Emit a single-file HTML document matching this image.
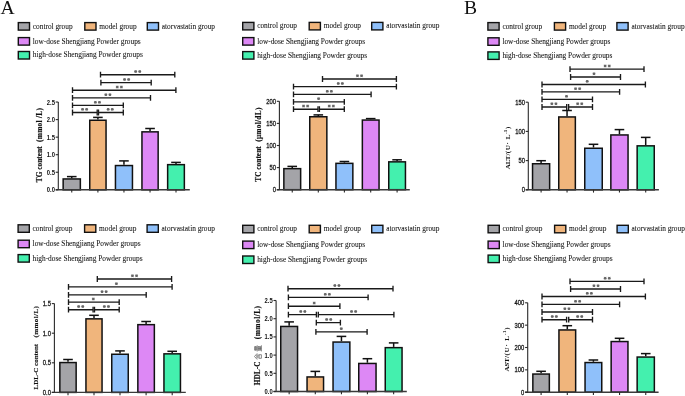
<!DOCTYPE html>
<html><head><meta charset="utf-8"><title>Figure</title><style>
html,body{margin:0;padding:0;background:#fff;}
body{width:685px;height:396px;overflow:hidden;}
svg{display:block;filter:blur(0.3px);}
.lg{font-family:"Liberation Serif", serif;font-size:7.35px;fill:#111;stroke:#111;stroke-width:0.06px;}
.tk{font-family:"Liberation Sans", sans-serif;font-size:6.8px;fill:#111;}
.tk.b{font-weight:bold;}
.tk:not(.b){stroke:#111;stroke-width:0.25px;}
.ax{stroke:#2a2a2a;stroke-width:1.1;fill:none;}
.xa{stroke:#3a3a3a;stroke-width:1.4;fill:none;}
.eb{stroke:#111;stroke-width:1.5;fill:none;}
.br{stroke:#1a1a1a;stroke-width:1.35;fill:none;}
.sd{fill:#666;}
.sp{stroke:#666;stroke-width:0.7;fill:none;}
.yl{font-family:"Liberation Serif", serif;font-size:7.4px;font-weight:bold;fill:#111;stroke:#111;stroke-width:0.15px;}
.yl2{font-family:"Liberation Serif", serif;font-size:7.2px;font-weight:bold;fill:#111;stroke:#111;stroke-width:0.05px;}
.pl{font-family:"Liberation Serif", serif;font-size:19.6px;fill:#111;}
</style></head>
<body><svg width="685" height="396" viewBox="0 0 685 396">
<text x="0.5" y="13.6" class="pl">A</text>
<text x="463.9" y="13.6" class="pl">B</text>
<rect x="18.30" y="22.60" width="11.20" height="7.50" fill="#a4a4a8" stroke="#111" stroke-width="1.4"/>
<text x="32.80" y="28.50" class="lg">control group</text>
<rect x="84.80" y="22.60" width="11.20" height="7.50" fill="#f0b57c" stroke="#111" stroke-width="1.4"/>
<text x="99.30" y="28.50" class="lg">model group</text>
<rect x="147.30" y="22.60" width="11.20" height="7.50" fill="#8fc0fa" stroke="#111" stroke-width="1.4"/>
<text x="161.80" y="28.50" class="lg">atorvastatin group</text>
<rect x="18.30" y="37.60" width="11.20" height="7.50" fill="#dd88f5" stroke="#111" stroke-width="1.4"/>
<text x="32.80" y="43.50" class="lg">low-dose Shengjiang Powder groups</text>
<rect x="18.30" y="51.50" width="11.20" height="7.50" fill="#44f0ae" stroke="#111" stroke-width="1.4"/>
<text x="32.80" y="57.40" class="lg">high-dose Shengjiang Powder groups</text>
<line x1="71.75" y1="176.60" x2="71.75" y2="178.20" class="eb"/>
<line x1="66.95" y1="176.60" x2="76.55" y2="176.60" class="eb"/>
<rect x="63.15" y="178.95" width="17.20" height="10.85" fill="#a4a4a8" stroke="#111" stroke-width="1.5"/>
<line x1="97.90" y1="117.40" x2="97.90" y2="119.50" class="eb"/>
<line x1="93.10" y1="117.40" x2="102.70" y2="117.40" class="eb"/>
<rect x="89.75" y="120.25" width="16.30" height="69.55" fill="#f0b57c" stroke="#111" stroke-width="1.5"/>
<line x1="123.95" y1="160.90" x2="123.95" y2="164.80" class="eb"/>
<line x1="119.15" y1="160.90" x2="128.75" y2="160.90" class="eb"/>
<rect x="115.45" y="165.55" width="17.00" height="24.25" fill="#8fc0fa" stroke="#111" stroke-width="1.5"/>
<line x1="150.05" y1="128.50" x2="150.05" y2="131.10" class="eb"/>
<line x1="145.25" y1="128.50" x2="154.85" y2="128.50" class="eb"/>
<rect x="141.95" y="131.85" width="16.20" height="57.95" fill="#dd88f5" stroke="#111" stroke-width="1.5"/>
<line x1="176.00" y1="162.40" x2="176.00" y2="163.90" class="eb"/>
<line x1="171.20" y1="162.40" x2="180.80" y2="162.40" class="eb"/>
<rect x="167.65" y="164.65" width="16.70" height="25.15" fill="#44f0ae" stroke="#111" stroke-width="1.5"/>
<line x1="58.30" y1="102.05" x2="58.30" y2="189.80" class="ax"/>
<line x1="55.70" y1="189.80" x2="189.80" y2="189.80" class="xa"/>
<line x1="55.70" y1="189.80" x2="58.30" y2="189.80" class="ax"/>
<text transform="translate(54.90,192.25) scale(0.86,1)" class="tk b" text-anchor="end">0.0</text>
<line x1="55.70" y1="172.25" x2="58.30" y2="172.25" class="ax"/>
<text transform="translate(54.90,174.70) scale(0.86,1)" class="tk b" text-anchor="end">0.5</text>
<line x1="55.70" y1="154.70" x2="58.30" y2="154.70" class="ax"/>
<text transform="translate(54.90,157.15) scale(0.86,1)" class="tk b" text-anchor="end">1.0</text>
<line x1="55.70" y1="137.15" x2="58.30" y2="137.15" class="ax"/>
<text transform="translate(54.90,139.60) scale(0.86,1)" class="tk b" text-anchor="end">1.5</text>
<line x1="55.70" y1="119.60" x2="58.30" y2="119.60" class="ax"/>
<text transform="translate(54.90,122.05) scale(0.86,1)" class="tk b" text-anchor="end">2.0</text>
<line x1="55.70" y1="102.05" x2="58.30" y2="102.05" class="ax"/>
<text transform="translate(54.90,104.50) scale(0.86,1)" class="tk b" text-anchor="end">2.5</text>
<line x1="71.75" y1="189.80" x2="71.75" y2="192.60" class="ax"/>
<line x1="97.90" y1="189.80" x2="97.90" y2="192.60" class="ax"/>
<line x1="123.95" y1="189.80" x2="123.95" y2="192.60" class="ax"/>
<line x1="150.05" y1="189.80" x2="150.05" y2="192.60" class="ax"/>
<line x1="176.00" y1="189.80" x2="176.00" y2="192.60" class="ax"/>
<path d="M100.50 71.80V77.60M100.50 74.70H174.80M174.80 71.80V77.60" class="br"/>
<circle cx="135.65" cy="71.55" r="1.25" class="sd"/><path d="M134.15 71.55H137.15M134.85 70.25L136.45 72.85M136.45 70.25L134.85 72.85" class="sp"/>
<circle cx="139.75" cy="71.55" r="1.25" class="sd"/><path d="M138.25 71.55H141.25M138.95 70.25L140.55 72.85M140.55 70.25L138.95 72.85" class="sp"/>
<path d="M100.90 79.70V85.50M100.90 82.60H151.20M151.20 79.70V85.50" class="br"/>
<circle cx="124.55" cy="79.45" r="1.25" class="sd"/><path d="M123.05 79.45H126.05M123.75 78.15L125.35 80.75M125.35 78.15L123.75 80.75" class="sp"/>
<circle cx="128.65" cy="79.45" r="1.25" class="sd"/><path d="M127.15 79.45H130.15M127.85 78.15L129.45 80.75M129.45 78.15L127.85 80.75" class="sp"/>
<path d="M72.50 87.30V93.10M72.50 90.20H175.90M175.90 87.30V93.10" class="br"/>
<circle cx="117.25" cy="87.05" r="1.25" class="sd"/><path d="M115.75 87.05H118.75M116.45 85.75L118.05 88.35M118.05 85.75L116.45 88.35" class="sp"/>
<circle cx="121.35" cy="87.05" r="1.25" class="sd"/><path d="M119.85 87.05H122.85M120.55 85.75L122.15 88.35M122.15 85.75L120.55 88.35" class="sp"/>
<path d="M72.50 95.00V100.80M72.50 97.90H150.50M150.50 95.00V100.80" class="br"/>
<circle cx="105.85" cy="94.75" r="1.25" class="sd"/><path d="M104.35 94.75H107.35M105.05 93.45L106.65 96.05M106.65 93.45L105.05 96.05" class="sp"/>
<circle cx="109.95" cy="94.75" r="1.25" class="sd"/><path d="M108.45 94.75H111.45M109.15 93.45L110.75 96.05M110.75 93.45L109.15 96.05" class="sp"/>
<path d="M72.50 102.50V108.30M72.50 105.40H123.30M123.30 102.50V108.30" class="br"/>
<circle cx="95.35" cy="102.25" r="1.25" class="sd"/><path d="M93.85 102.25H96.85M94.55 100.95L96.15 103.55M96.15 100.95L94.55 103.55" class="sp"/>
<circle cx="99.45" cy="102.25" r="1.25" class="sd"/><path d="M97.95 102.25H100.95M98.65 100.95L100.25 103.55M100.25 100.95L98.65 103.55" class="sp"/>
<path d="M72.50 109.60V115.40M72.50 112.50H97.20M97.20 109.60V115.40" class="br"/>
<circle cx="82.55" cy="109.35" r="1.25" class="sd"/><path d="M81.05 109.35H84.05M81.75 108.05L83.35 110.65M83.35 108.05L81.75 110.65" class="sp"/>
<circle cx="86.65" cy="109.35" r="1.25" class="sd"/><path d="M85.15 109.35H88.15M85.85 108.05L87.45 110.65M87.45 108.05L85.85 110.65" class="sp"/>
<path d="M98.50 109.60V115.40M98.50 112.50H123.30M123.30 109.60V115.40" class="br"/>
<circle cx="108.15" cy="109.35" r="1.25" class="sd"/><path d="M106.65 109.35H109.65M107.35 108.05L108.95 110.65M108.95 108.05L107.35 110.65" class="sp"/>
<circle cx="112.25" cy="109.35" r="1.25" class="sd"/><path d="M110.75 109.35H113.75M111.45 108.05L113.05 110.65M113.05 108.05L111.45 110.65" class="sp"/>
<text transform="translate(42.10,182.30) rotate(-90)" class="yl" style="">TG content</text>
<text transform="translate(42.10,142.00) rotate(-90)" class="yl" style="letter-spacing:0.26px;">(mmol /L)</text>
<rect x="242.70" y="22.40" width="11.20" height="7.50" fill="#a4a4a8" stroke="#111" stroke-width="1.4"/>
<text x="257.20" y="28.30" class="lg">control group</text>
<rect x="309.20" y="22.40" width="11.20" height="7.50" fill="#f0b57c" stroke="#111" stroke-width="1.4"/>
<text x="323.70" y="28.30" class="lg">model group</text>
<rect x="371.70" y="22.40" width="11.20" height="7.50" fill="#8fc0fa" stroke="#111" stroke-width="1.4"/>
<text x="386.20" y="28.30" class="lg">atorvastatin group</text>
<rect x="242.70" y="37.60" width="11.20" height="7.50" fill="#dd88f5" stroke="#111" stroke-width="1.4"/>
<text x="257.20" y="43.50" class="lg">low-dose Shengjiang Powder groups</text>
<rect x="242.70" y="51.60" width="11.20" height="7.50" fill="#44f0ae" stroke="#111" stroke-width="1.4"/>
<text x="257.20" y="57.50" class="lg">high-dose Shengjiang Powder groups</text>
<line x1="292.25" y1="166.40" x2="292.25" y2="167.90" class="eb"/>
<line x1="287.45" y1="166.40" x2="297.05" y2="166.40" class="eb"/>
<rect x="283.85" y="168.65" width="16.80" height="21.05" fill="#a4a4a8" stroke="#111" stroke-width="1.5"/>
<line x1="318.30" y1="114.90" x2="318.30" y2="116.00" class="eb"/>
<line x1="313.50" y1="114.90" x2="323.10" y2="114.90" class="eb"/>
<rect x="309.75" y="116.75" width="17.10" height="72.95" fill="#f0b57c" stroke="#111" stroke-width="1.5"/>
<line x1="344.40" y1="161.50" x2="344.40" y2="162.60" class="eb"/>
<line x1="339.60" y1="161.50" x2="349.20" y2="161.50" class="eb"/>
<rect x="335.95" y="163.35" width="16.90" height="26.35" fill="#8fc0fa" stroke="#111" stroke-width="1.5"/>
<line x1="370.70" y1="118.60" x2="370.70" y2="119.30" class="eb"/>
<line x1="365.90" y1="118.60" x2="375.50" y2="118.60" class="eb"/>
<rect x="362.35" y="120.05" width="16.70" height="69.65" fill="#dd88f5" stroke="#111" stroke-width="1.5"/>
<line x1="397.10" y1="159.80" x2="397.10" y2="161.10" class="eb"/>
<line x1="392.30" y1="159.80" x2="401.90" y2="159.80" class="eb"/>
<rect x="388.75" y="161.85" width="16.70" height="27.85" fill="#44f0ae" stroke="#111" stroke-width="1.5"/>
<line x1="279.40" y1="101.30" x2="279.40" y2="189.70" class="ax"/>
<line x1="276.80" y1="189.70" x2="409.80" y2="189.70" class="xa"/>
<line x1="276.80" y1="189.70" x2="279.40" y2="189.70" class="ax"/>
<text transform="translate(276.00,192.15) scale(0.86,1)" class="tk" text-anchor="end">0</text>
<line x1="276.80" y1="167.60" x2="279.40" y2="167.60" class="ax"/>
<text transform="translate(276.00,170.05) scale(0.86,1)" class="tk" text-anchor="end">50</text>
<line x1="276.80" y1="145.50" x2="279.40" y2="145.50" class="ax"/>
<text transform="translate(276.00,147.95) scale(0.86,1)" class="tk" text-anchor="end">100</text>
<line x1="276.80" y1="123.40" x2="279.40" y2="123.40" class="ax"/>
<text transform="translate(276.00,125.85) scale(0.86,1)" class="tk" text-anchor="end">150</text>
<line x1="276.80" y1="101.30" x2="279.40" y2="101.30" class="ax"/>
<text transform="translate(276.00,103.75) scale(0.86,1)" class="tk" text-anchor="end">200</text>
<line x1="292.25" y1="189.70" x2="292.25" y2="192.50" class="ax"/>
<line x1="318.30" y1="189.70" x2="318.30" y2="192.50" class="ax"/>
<line x1="344.40" y1="189.70" x2="344.40" y2="192.50" class="ax"/>
<line x1="370.70" y1="189.70" x2="370.70" y2="192.50" class="ax"/>
<line x1="397.10" y1="189.70" x2="397.10" y2="192.50" class="ax"/>
<path d="M322.50 76.10V81.90M322.50 79.00H396.40M396.40 76.10V81.90" class="br"/>
<circle cx="357.45" cy="75.85" r="1.25" class="sd"/><path d="M355.95 75.85H358.95M356.65 74.55L358.25 77.15M358.25 74.55L356.65 77.15" class="sp"/>
<circle cx="361.55" cy="75.85" r="1.25" class="sd"/><path d="M360.05 75.85H363.05M360.75 74.55L362.35 77.15M362.35 74.55L360.75 77.15" class="sp"/>
<path d="M293.50 83.70V89.50M293.50 86.60H396.40M396.40 83.70V89.50" class="br"/>
<circle cx="338.25" cy="83.45" r="1.25" class="sd"/><path d="M336.75 83.45H339.75M337.45 82.15L339.05 84.75M339.05 82.15L337.45 84.75" class="sp"/>
<circle cx="342.35" cy="83.45" r="1.25" class="sd"/><path d="M340.85 83.45H343.85M341.55 82.15L343.15 84.75M343.15 82.15L341.55 84.75" class="sp"/>
<path d="M293.50 91.50V97.30M293.50 94.40H371.10M371.10 91.50V97.30" class="br"/>
<circle cx="327.25" cy="91.25" r="1.25" class="sd"/><path d="M325.75 91.25H328.75M326.45 89.95L328.05 92.55M328.05 89.95L326.45 92.55" class="sp"/>
<circle cx="331.35" cy="91.25" r="1.25" class="sd"/><path d="M329.85 91.25H332.85M330.55 89.95L332.15 92.55M332.15 89.95L330.55 92.55" class="sp"/>
<path d="M293.50 98.90V104.70M293.50 101.80H344.30M344.30 98.90V104.70" class="br"/>
<circle cx="318.60" cy="98.65" r="1.25" class="sd"/><path d="M317.10 98.65H320.10M317.80 97.35L319.40 99.95M319.40 97.35L317.80 99.95" class="sp"/>
<path d="M293.50 106.30V112.10M293.50 109.20H318.00M318.00 106.30V112.10" class="br"/>
<circle cx="303.55" cy="106.05" r="1.25" class="sd"/><path d="M302.05 106.05H305.05M302.75 104.75L304.35 107.35M304.35 104.75L302.75 107.35" class="sp"/>
<circle cx="307.65" cy="106.05" r="1.25" class="sd"/><path d="M306.15 106.05H309.15M306.85 104.75L308.45 107.35M308.45 104.75L306.85 107.35" class="sp"/>
<path d="M319.40 106.30V112.10M319.40 109.20H344.30M344.30 106.30V112.10" class="br"/>
<circle cx="329.25" cy="106.05" r="1.25" class="sd"/><path d="M327.75 106.05H330.75M328.45 104.75L330.05 107.35M330.05 104.75L328.45 107.35" class="sp"/>
<circle cx="333.35" cy="106.05" r="1.25" class="sd"/><path d="M331.85 106.05H334.85M332.55 104.75L334.15 107.35M334.15 104.75L332.55 107.35" class="sp"/>
<text transform="translate(260.60,181.80) rotate(-90)" class="yl" style="">TC content</text>
<text transform="translate(260.60,141.80) rotate(-90)" class="yl" style="letter-spacing:0.26px;">(μmol/dL)</text>
<rect x="487.90" y="22.60" width="11.20" height="7.50" fill="#a4a4a8" stroke="#111" stroke-width="1.4"/>
<text x="502.40" y="28.50" class="lg">control group</text>
<rect x="554.40" y="22.60" width="11.20" height="7.50" fill="#f0b57c" stroke="#111" stroke-width="1.4"/>
<text x="568.90" y="28.50" class="lg">model group</text>
<rect x="616.90" y="22.60" width="11.20" height="7.50" fill="#8fc0fa" stroke="#111" stroke-width="1.4"/>
<text x="631.40" y="28.50" class="lg">atorvastatin group</text>
<rect x="487.90" y="37.80" width="11.20" height="7.50" fill="#dd88f5" stroke="#111" stroke-width="1.4"/>
<text x="502.40" y="43.70" class="lg">low-dose Shengjiang Powder groups</text>
<rect x="487.90" y="51.90" width="11.20" height="7.50" fill="#44f0ae" stroke="#111" stroke-width="1.4"/>
<text x="502.40" y="57.80" class="lg">high-dose Shengjiang Powder groups</text>
<line x1="541.10" y1="160.70" x2="541.10" y2="163.00" class="eb"/>
<line x1="536.30" y1="160.70" x2="545.90" y2="160.70" class="eb"/>
<rect x="532.55" y="163.75" width="17.10" height="26.05" fill="#a4a4a8" stroke="#111" stroke-width="1.5"/>
<line x1="567.05" y1="110.50" x2="567.05" y2="116.20" class="eb"/>
<line x1="562.25" y1="110.50" x2="571.85" y2="110.50" class="eb"/>
<rect x="558.75" y="116.95" width="16.60" height="72.85" fill="#f0b57c" stroke="#111" stroke-width="1.5"/>
<line x1="593.50" y1="144.30" x2="593.50" y2="147.50" class="eb"/>
<line x1="588.70" y1="144.30" x2="598.30" y2="144.30" class="eb"/>
<rect x="584.75" y="148.25" width="17.50" height="41.55" fill="#8fc0fa" stroke="#111" stroke-width="1.5"/>
<line x1="619.45" y1="129.60" x2="619.45" y2="134.20" class="eb"/>
<line x1="614.65" y1="129.60" x2="624.25" y2="129.60" class="eb"/>
<rect x="610.85" y="134.95" width="17.20" height="54.85" fill="#dd88f5" stroke="#111" stroke-width="1.5"/>
<line x1="645.70" y1="137.40" x2="645.70" y2="145.10" class="eb"/>
<line x1="640.90" y1="137.40" x2="650.50" y2="137.40" class="eb"/>
<rect x="637.15" y="145.85" width="17.10" height="43.95" fill="#44f0ae" stroke="#111" stroke-width="1.5"/>
<line x1="528.30" y1="102.20" x2="528.30" y2="189.80" class="ax"/>
<line x1="525.70" y1="189.80" x2="658.90" y2="189.80" class="xa"/>
<line x1="525.70" y1="189.80" x2="528.30" y2="189.80" class="ax"/>
<text transform="translate(524.90,192.25) scale(0.86,1)" class="tk" text-anchor="end">0</text>
<line x1="525.70" y1="160.60" x2="528.30" y2="160.60" class="ax"/>
<text transform="translate(524.90,163.05) scale(0.86,1)" class="tk" text-anchor="end">50</text>
<line x1="525.70" y1="131.40" x2="528.30" y2="131.40" class="ax"/>
<text transform="translate(524.90,133.85) scale(0.86,1)" class="tk" text-anchor="end">100</text>
<line x1="525.70" y1="102.20" x2="528.30" y2="102.20" class="ax"/>
<text transform="translate(524.90,104.65) scale(0.86,1)" class="tk" text-anchor="end">150</text>
<line x1="541.10" y1="189.80" x2="541.10" y2="192.60" class="ax"/>
<line x1="567.05" y1="189.80" x2="567.05" y2="192.60" class="ax"/>
<line x1="593.50" y1="189.80" x2="593.50" y2="192.60" class="ax"/>
<line x1="619.45" y1="189.80" x2="619.45" y2="192.60" class="ax"/>
<line x1="645.70" y1="189.80" x2="645.70" y2="192.60" class="ax"/>
<path d="M570.00 66.20V72.00M570.00 69.10H644.00M644.00 66.20V72.00" class="br"/>
<circle cx="605.15" cy="65.95" r="1.25" class="sd"/><path d="M603.65 65.95H606.65M604.35 64.65L605.95 67.25M605.95 64.65L604.35 67.25" class="sp"/>
<circle cx="609.25" cy="65.95" r="1.25" class="sd"/><path d="M607.75 65.95H610.75M608.45 64.65L610.05 67.25M610.05 64.65L608.45 67.25" class="sp"/>
<path d="M570.60 74.10V79.90M570.60 77.00H620.50M620.50 74.10V79.90" class="br"/>
<circle cx="594.00" cy="73.85" r="1.25" class="sd"/><path d="M592.50 73.85H595.50M593.20 72.55L594.80 75.15M594.80 72.55L593.20 75.15" class="sp"/>
<path d="M542.00 81.60V87.40M542.00 84.50H645.40M645.40 81.60V87.40" class="br"/>
<circle cx="587.20" cy="81.35" r="1.25" class="sd"/><path d="M585.70 81.35H588.70M586.40 80.05L588.00 82.65M588.00 80.05L586.40 82.65" class="sp"/>
<path d="M542.00 89.00V94.80M542.00 91.90H619.60M619.60 89.00V94.80" class="br"/>
<circle cx="575.55" cy="88.75" r="1.25" class="sd"/><path d="M574.05 88.75H577.05M574.75 87.45L576.35 90.05M576.35 87.45L574.75 90.05" class="sp"/>
<circle cx="579.65" cy="88.75" r="1.25" class="sd"/><path d="M578.15 88.75H581.15M578.85 87.45L580.45 90.05M580.45 87.45L578.85 90.05" class="sp"/>
<path d="M542.00 96.50V102.30M542.00 99.40H592.50M592.50 96.50V102.30" class="br"/>
<circle cx="566.50" cy="96.25" r="1.25" class="sd"/><path d="M565.00 96.25H568.00M565.70 94.95L567.30 97.55M567.30 94.95L565.70 97.55" class="sp"/>
<path d="M542.00 104.10V109.90M542.00 107.00H566.70M566.70 104.10V109.90" class="br"/>
<circle cx="551.85" cy="103.85" r="1.25" class="sd"/><path d="M550.35 103.85H553.35M551.05 102.55L552.65 105.15M552.65 102.55L551.05 105.15" class="sp"/>
<circle cx="555.95" cy="103.85" r="1.25" class="sd"/><path d="M554.45 103.85H557.45M555.15 102.55L556.75 105.15M556.75 102.55L555.15 105.15" class="sp"/>
<path d="M568.60 104.10V109.90M568.60 107.00H592.50M592.50 104.10V109.90" class="br"/>
<circle cx="577.65" cy="103.85" r="1.25" class="sd"/><path d="M576.15 103.85H579.15M576.85 102.55L578.45 105.15M578.45 102.55L576.85 105.15" class="sp"/>
<circle cx="581.75" cy="103.85" r="1.25" class="sd"/><path d="M580.25 103.85H583.25M580.95 102.55L582.55 105.15M582.55 102.55L580.95 105.15" class="sp"/>
<text transform="translate(510.10,169.30) rotate(-90)" class="yl2" style="font-size:7.0px;">ALT/</text>
<text transform="translate(510.10,153.20) rotate(-90)" class="yl2" style="font-size:7.0px;letter-spacing:0.6px;">(U· L<tspan dy="-2.9" font-size="4.6">-1</tspan><tspan dy="2.9">)</tspan></text>
<rect x="18.10" y="224.80" width="11.20" height="7.50" fill="#a4a4a8" stroke="#111" stroke-width="1.4"/>
<text x="32.60" y="230.70" class="lg">control group</text>
<rect x="84.60" y="224.80" width="11.20" height="7.50" fill="#f0b57c" stroke="#111" stroke-width="1.4"/>
<text x="99.10" y="230.70" class="lg">model group</text>
<rect x="147.10" y="224.80" width="11.20" height="7.50" fill="#8fc0fa" stroke="#111" stroke-width="1.4"/>
<text x="161.60" y="230.70" class="lg">atorvastatin group</text>
<rect x="18.10" y="240.20" width="11.20" height="7.50" fill="#dd88f5" stroke="#111" stroke-width="1.4"/>
<text x="32.60" y="246.10" class="lg">low-dose Shengjiang Powder groups</text>
<rect x="18.10" y="254.60" width="11.20" height="7.50" fill="#44f0ae" stroke="#111" stroke-width="1.4"/>
<text x="32.60" y="260.50" class="lg">high-dose Shengjiang Powder groups</text>
<line x1="68.00" y1="359.50" x2="68.00" y2="361.80" class="eb"/>
<line x1="63.20" y1="359.50" x2="72.80" y2="359.50" class="eb"/>
<rect x="59.85" y="362.55" width="16.30" height="29.85" fill="#a4a4a8" stroke="#111" stroke-width="1.5"/>
<line x1="94.00" y1="315.30" x2="94.00" y2="318.10" class="eb"/>
<line x1="89.20" y1="315.30" x2="98.80" y2="315.30" class="eb"/>
<rect x="85.95" y="318.85" width="16.10" height="73.55" fill="#f0b57c" stroke="#111" stroke-width="1.5"/>
<line x1="120.00" y1="350.90" x2="120.00" y2="353.50" class="eb"/>
<line x1="115.20" y1="350.90" x2="124.80" y2="350.90" class="eb"/>
<rect x="111.75" y="354.25" width="16.50" height="38.15" fill="#8fc0fa" stroke="#111" stroke-width="1.5"/>
<line x1="146.10" y1="321.50" x2="146.10" y2="323.90" class="eb"/>
<line x1="141.30" y1="321.50" x2="150.90" y2="321.50" class="eb"/>
<rect x="137.85" y="324.65" width="16.50" height="67.75" fill="#dd88f5" stroke="#111" stroke-width="1.5"/>
<line x1="172.20" y1="351.30" x2="172.20" y2="353.10" class="eb"/>
<line x1="167.40" y1="351.30" x2="177.00" y2="351.30" class="eb"/>
<rect x="163.95" y="353.85" width="16.50" height="38.55" fill="#44f0ae" stroke="#111" stroke-width="1.5"/>
<line x1="54.40" y1="303.60" x2="54.40" y2="392.40" class="ax"/>
<line x1="51.80" y1="392.40" x2="185.80" y2="392.40" class="xa"/>
<line x1="51.80" y1="392.40" x2="54.40" y2="392.40" class="ax"/>
<text transform="translate(51.00,394.85) scale(0.86,1)" class="tk" text-anchor="end">0.0</text>
<line x1="51.80" y1="362.80" x2="54.40" y2="362.80" class="ax"/>
<text transform="translate(51.00,365.25) scale(0.86,1)" class="tk" text-anchor="end">0.5</text>
<line x1="51.80" y1="333.20" x2="54.40" y2="333.20" class="ax"/>
<text transform="translate(51.00,335.65) scale(0.86,1)" class="tk" text-anchor="end">1.0</text>
<line x1="51.80" y1="303.60" x2="54.40" y2="303.60" class="ax"/>
<text transform="translate(51.00,306.05) scale(0.86,1)" class="tk" text-anchor="end">1.5</text>
<line x1="68.00" y1="392.40" x2="68.00" y2="395.20" class="ax"/>
<line x1="94.00" y1="392.40" x2="94.00" y2="395.20" class="ax"/>
<line x1="120.00" y1="392.40" x2="120.00" y2="395.20" class="ax"/>
<line x1="146.10" y1="392.40" x2="146.10" y2="395.20" class="ax"/>
<line x1="172.20" y1="392.40" x2="172.20" y2="395.20" class="ax"/>
<path d="M97.30 276.10V281.90M97.30 279.00H171.60M171.60 276.10V281.90" class="br"/>
<circle cx="132.45" cy="275.85" r="1.25" class="sd"/><path d="M130.95 275.85H133.95M131.65 274.55L133.25 277.15M133.25 274.55L131.65 277.15" class="sp"/>
<circle cx="136.55" cy="275.85" r="1.25" class="sd"/><path d="M135.05 275.85H138.05M135.75 274.55L137.35 277.15M137.35 274.55L135.75 277.15" class="sp"/>
<path d="M68.50 284.00V289.80M68.50 286.90H172.10M172.10 284.00V289.80" class="br"/>
<circle cx="116.40" cy="283.75" r="1.25" class="sd"/><path d="M114.90 283.75H117.90M115.60 282.45L117.20 285.05M117.20 282.45L115.60 285.05" class="sp"/>
<path d="M68.50 291.90V297.70M68.50 294.80H146.20M146.20 291.90V297.70" class="br"/>
<circle cx="102.05" cy="291.65" r="1.25" class="sd"/><path d="M100.55 291.65H103.55M101.25 290.35L102.85 292.95M102.85 290.35L101.25 292.95" class="sp"/>
<circle cx="106.15" cy="291.65" r="1.25" class="sd"/><path d="M104.65 291.65H107.65M105.35 290.35L106.95 292.95M106.95 290.35L105.35 292.95" class="sp"/>
<path d="M68.50 299.20V305.00M68.50 302.10H119.20M119.20 299.20V305.00" class="br"/>
<circle cx="93.30" cy="298.95" r="1.25" class="sd"/><path d="M91.80 298.95H94.80M92.50 297.65L94.10 300.25M94.10 297.65L92.50 300.25" class="sp"/>
<path d="M68.50 306.80V312.60M68.50 309.70H93.10M93.10 306.80V312.60" class="br"/>
<circle cx="78.65" cy="306.55" r="1.25" class="sd"/><path d="M77.15 306.55H80.15M77.85 305.25L79.45 307.85M79.45 305.25L77.85 307.85" class="sp"/>
<circle cx="82.75" cy="306.55" r="1.25" class="sd"/><path d="M81.25 306.55H84.25M81.95 305.25L83.55 307.85M83.55 305.25L81.95 307.85" class="sp"/>
<path d="M94.50 306.80V312.60M94.50 309.70H119.20M119.20 306.80V312.60" class="br"/>
<circle cx="104.35" cy="306.55" r="1.25" class="sd"/><path d="M102.85 306.55H105.85M103.55 305.25L105.15 307.85M105.15 305.25L103.55 307.85" class="sp"/>
<circle cx="108.45" cy="306.55" r="1.25" class="sd"/><path d="M106.95 306.55H109.95M107.65 305.25L109.25 307.85M109.25 305.25L107.65 307.85" class="sp"/>
<text transform="translate(38.30,389.50) rotate(-90)" class="yl" style="font-size:7.0px;">LDL-C content</text>
<text transform="translate(38.30,337.60) rotate(-90)" class="yl" style="font-size:7.0px;letter-spacing:0.45px;">(mmol/L)</text>
<rect x="242.70" y="225.30" width="11.20" height="7.50" fill="#a4a4a8" stroke="#111" stroke-width="1.4"/>
<text x="257.20" y="231.20" class="lg">control group</text>
<rect x="309.20" y="225.30" width="11.20" height="7.50" fill="#f0b57c" stroke="#111" stroke-width="1.4"/>
<text x="323.70" y="231.20" class="lg">model group</text>
<rect x="371.70" y="225.30" width="11.20" height="7.50" fill="#8fc0fa" stroke="#111" stroke-width="1.4"/>
<text x="386.20" y="231.20" class="lg">atorvastatin group</text>
<rect x="242.70" y="241.10" width="11.20" height="7.50" fill="#dd88f5" stroke="#111" stroke-width="1.4"/>
<text x="257.20" y="247.00" class="lg">low-dose Shengjiang Powder groups</text>
<rect x="242.70" y="256.00" width="11.20" height="7.50" fill="#44f0ae" stroke="#111" stroke-width="1.4"/>
<text x="257.20" y="261.90" class="lg">high-dose Shengjiang Powder groups</text>
<line x1="289.15" y1="321.90" x2="289.15" y2="325.70" class="eb"/>
<line x1="284.35" y1="321.90" x2="293.95" y2="321.90" class="eb"/>
<rect x="280.75" y="326.45" width="16.80" height="65.05" fill="#a4a4a8" stroke="#111" stroke-width="1.5"/>
<line x1="315.30" y1="371.40" x2="315.30" y2="376.20" class="eb"/>
<line x1="310.50" y1="371.40" x2="320.10" y2="371.40" class="eb"/>
<rect x="307.05" y="376.95" width="16.50" height="14.55" fill="#f0b57c" stroke="#111" stroke-width="1.5"/>
<line x1="341.45" y1="336.40" x2="341.45" y2="341.30" class="eb"/>
<line x1="336.65" y1="336.40" x2="346.25" y2="336.40" class="eb"/>
<rect x="333.05" y="342.05" width="16.80" height="49.45" fill="#8fc0fa" stroke="#111" stroke-width="1.5"/>
<line x1="367.40" y1="358.70" x2="367.40" y2="362.70" class="eb"/>
<line x1="362.60" y1="358.70" x2="372.20" y2="358.70" class="eb"/>
<rect x="358.75" y="363.45" width="17.30" height="28.05" fill="#dd88f5" stroke="#111" stroke-width="1.5"/>
<line x1="393.65" y1="342.90" x2="393.65" y2="346.90" class="eb"/>
<line x1="388.85" y1="342.90" x2="398.45" y2="342.90" class="eb"/>
<rect x="385.25" y="347.65" width="16.80" height="43.85" fill="#44f0ae" stroke="#111" stroke-width="1.5"/>
<line x1="276.10" y1="300.50" x2="276.10" y2="391.50" class="ax"/>
<line x1="273.50" y1="391.50" x2="406.80" y2="391.50" class="xa"/>
<line x1="273.50" y1="391.50" x2="276.10" y2="391.50" class="ax"/>
<text transform="translate(272.70,393.95) scale(0.86,1)" class="tk b" text-anchor="end">0.0</text>
<line x1="273.50" y1="373.30" x2="276.10" y2="373.30" class="ax"/>
<text transform="translate(272.70,375.75) scale(0.86,1)" class="tk b" text-anchor="end">0.5</text>
<line x1="273.50" y1="355.10" x2="276.10" y2="355.10" class="ax"/>
<text transform="translate(272.70,357.55) scale(0.86,1)" class="tk b" text-anchor="end">1.0</text>
<line x1="273.50" y1="336.90" x2="276.10" y2="336.90" class="ax"/>
<text transform="translate(272.70,339.35) scale(0.86,1)" class="tk b" text-anchor="end">1.5</text>
<line x1="273.50" y1="318.70" x2="276.10" y2="318.70" class="ax"/>
<text transform="translate(272.70,321.15) scale(0.86,1)" class="tk b" text-anchor="end">2.0</text>
<line x1="273.50" y1="300.50" x2="276.10" y2="300.50" class="ax"/>
<text transform="translate(272.70,302.95) scale(0.86,1)" class="tk b" text-anchor="end">2.5</text>
<line x1="289.15" y1="391.50" x2="289.15" y2="394.30" class="ax"/>
<line x1="315.30" y1="391.50" x2="315.30" y2="394.30" class="ax"/>
<line x1="341.45" y1="391.50" x2="341.45" y2="394.30" class="ax"/>
<line x1="367.40" y1="391.50" x2="367.40" y2="394.30" class="ax"/>
<line x1="393.65" y1="391.50" x2="393.65" y2="394.30" class="ax"/>
<path d="M288.00 285.80V291.60M288.00 288.70H393.00M393.00 285.80V291.60" class="br"/>
<circle cx="334.85" cy="285.55" r="1.25" class="sd"/><path d="M333.35 285.55H336.35M334.05 284.25L335.65 286.85M335.65 284.25L334.05 286.85" class="sp"/>
<circle cx="338.95" cy="285.55" r="1.25" class="sd"/><path d="M337.45 285.55H340.45M338.15 284.25L339.75 286.85M339.75 284.25L338.15 286.85" class="sp"/>
<path d="M288.40 294.50V300.30M288.40 297.40H368.10M368.10 294.50V300.30" class="br"/>
<circle cx="325.25" cy="294.25" r="1.25" class="sd"/><path d="M323.75 294.25H326.75M324.45 292.95L326.05 295.55M326.05 292.95L324.45 295.55" class="sp"/>
<circle cx="329.35" cy="294.25" r="1.25" class="sd"/><path d="M327.85 294.25H330.85M328.55 292.95L330.15 295.55M330.15 292.95L328.55 295.55" class="sp"/>
<path d="M288.40 303.30V309.10M288.40 306.20H339.90M339.90 303.30V309.10" class="br"/>
<circle cx="314.20" cy="303.05" r="1.25" class="sd"/><path d="M312.70 303.05H315.70M313.40 301.75L315.00 304.35M315.00 301.75L313.40 304.35" class="sp"/>
<path d="M288.40 311.70V317.50M288.40 314.60H316.40M316.40 311.70V317.50" class="br"/>
<circle cx="300.75" cy="311.45" r="1.25" class="sd"/><path d="M299.25 311.45H302.25M299.95 310.15L301.55 312.75M301.55 310.15L299.95 312.75" class="sp"/>
<circle cx="304.85" cy="311.45" r="1.25" class="sd"/><path d="M303.35 311.45H306.35M304.05 310.15L305.65 312.75M305.65 310.15L304.05 312.75" class="sp"/>
<path d="M318.30 311.70V317.50M318.30 314.60H393.90M393.90 311.70V317.50" class="br"/>
<circle cx="351.55" cy="311.45" r="1.25" class="sd"/><path d="M350.05 311.45H353.05M350.75 310.15L352.35 312.75M352.35 310.15L350.75 312.75" class="sp"/>
<circle cx="355.65" cy="311.45" r="1.25" class="sd"/><path d="M354.15 311.45H357.15M354.85 310.15L356.45 312.75M356.45 310.15L354.85 312.75" class="sp"/>
<path d="M316.30 319.70V325.50M316.30 322.60H340.40M340.40 319.70V325.50" class="br"/>
<circle cx="326.65" cy="319.45" r="1.25" class="sd"/><path d="M325.15 319.45H328.15M325.85 318.15L327.45 320.75M327.45 318.15L325.85 320.75" class="sp"/>
<circle cx="330.75" cy="319.45" r="1.25" class="sd"/><path d="M329.25 319.45H332.25M329.95 318.15L331.55 320.75M331.55 318.15L329.95 320.75" class="sp"/>
<path d="M315.90 328.90V334.70M315.90 331.80H367.10M367.10 328.90V334.70" class="br"/>
<circle cx="341.30" cy="328.65" r="1.25" class="sd"/><path d="M339.80 328.65H342.80M340.50 327.35L342.10 329.95M342.10 327.35L340.50 329.95" class="sp"/>
<text transform="translate(260.30,385.30) rotate(-90)" class="yl" style="">HDL-C</text>
<text transform="translate(260.30,339.20) rotate(-90)" class="yl" style="letter-spacing:0.47px;">(mmol/L)</text>
<path transform="translate(260.10,360.20) rotate(-90)" d="M3.70 -5.6L0.70 -2.9M3.70 -5.6L6.80 -2.9M2.40 -3.3H5.10M1.70 -2.2H5.70L4.70 -1.2M1.90 -1.0H5.50V1.3H1.90ZM10.00 -5.5H13.60V-3.7H10.00ZM10.00 -4.6H13.60M8.70 -2.9H14.90M10.00 -2.1H13.60V-0.3H10.00ZM10.00 -1.2H13.60M11.80 -2.1V1.2M9.60 0.4H14.00M8.80 1.3H14.90" fill="none" stroke="#6a6a6a" stroke-width="0.8"/>
<rect x="488.10" y="225.30" width="11.20" height="7.50" fill="#a4a4a8" stroke="#111" stroke-width="1.4"/>
<text x="502.60" y="231.20" class="lg">control group</text>
<rect x="554.60" y="225.30" width="11.20" height="7.50" fill="#f0b57c" stroke="#111" stroke-width="1.4"/>
<text x="569.10" y="231.20" class="lg">model group</text>
<rect x="617.10" y="225.30" width="11.20" height="7.50" fill="#8fc0fa" stroke="#111" stroke-width="1.4"/>
<text x="631.60" y="231.20" class="lg">atorvastatin group</text>
<rect x="488.10" y="241.10" width="11.20" height="7.50" fill="#dd88f5" stroke="#111" stroke-width="1.4"/>
<text x="502.60" y="247.00" class="lg">low-dose Shengjiang Powder groups</text>
<rect x="488.10" y="255.10" width="11.20" height="7.50" fill="#44f0ae" stroke="#111" stroke-width="1.4"/>
<text x="502.60" y="261.00" class="lg">high-dose Shengjiang Powder groups</text>
<line x1="541.10" y1="371.30" x2="541.10" y2="373.30" class="eb"/>
<line x1="536.30" y1="371.30" x2="545.90" y2="371.30" class="eb"/>
<rect x="532.85" y="374.05" width="16.50" height="18.15" fill="#a4a4a8" stroke="#111" stroke-width="1.5"/>
<line x1="567.30" y1="325.70" x2="567.30" y2="329.20" class="eb"/>
<line x1="562.50" y1="325.70" x2="572.10" y2="325.70" class="eb"/>
<rect x="558.95" y="329.95" width="16.70" height="62.25" fill="#f0b57c" stroke="#111" stroke-width="1.5"/>
<line x1="593.40" y1="360.00" x2="593.40" y2="361.80" class="eb"/>
<line x1="588.60" y1="360.00" x2="598.20" y2="360.00" class="eb"/>
<rect x="585.05" y="362.55" width="16.70" height="29.65" fill="#8fc0fa" stroke="#111" stroke-width="1.5"/>
<line x1="619.55" y1="338.30" x2="619.55" y2="340.80" class="eb"/>
<line x1="614.75" y1="338.30" x2="624.35" y2="338.30" class="eb"/>
<rect x="611.15" y="341.55" width="16.80" height="50.65" fill="#dd88f5" stroke="#111" stroke-width="1.5"/>
<line x1="645.75" y1="353.60" x2="645.75" y2="356.30" class="eb"/>
<line x1="640.95" y1="353.60" x2="650.55" y2="353.60" class="eb"/>
<rect x="637.15" y="357.05" width="17.20" height="35.15" fill="#44f0ae" stroke="#111" stroke-width="1.5"/>
<line x1="527.70" y1="302.80" x2="527.70" y2="392.20" class="ax"/>
<line x1="525.10" y1="392.20" x2="658.60" y2="392.20" class="xa"/>
<line x1="525.10" y1="392.20" x2="527.70" y2="392.20" class="ax"/>
<text transform="translate(524.30,394.65) scale(0.86,1)" class="tk" text-anchor="end">0</text>
<line x1="525.10" y1="369.85" x2="527.70" y2="369.85" class="ax"/>
<text transform="translate(524.30,372.30) scale(0.86,1)" class="tk" text-anchor="end">100</text>
<line x1="525.10" y1="347.50" x2="527.70" y2="347.50" class="ax"/>
<text transform="translate(524.30,349.95) scale(0.86,1)" class="tk" text-anchor="end">200</text>
<line x1="525.10" y1="325.15" x2="527.70" y2="325.15" class="ax"/>
<text transform="translate(524.30,327.60) scale(0.86,1)" class="tk" text-anchor="end">300</text>
<line x1="525.10" y1="302.80" x2="527.70" y2="302.80" class="ax"/>
<text transform="translate(524.30,305.25) scale(0.86,1)" class="tk" text-anchor="end">400</text>
<line x1="541.10" y1="392.20" x2="541.10" y2="395.00" class="ax"/>
<line x1="567.30" y1="392.20" x2="567.30" y2="395.00" class="ax"/>
<line x1="593.40" y1="392.20" x2="593.40" y2="395.00" class="ax"/>
<line x1="619.55" y1="392.20" x2="619.55" y2="395.00" class="ax"/>
<line x1="645.75" y1="392.20" x2="645.75" y2="395.00" class="ax"/>
<path d="M570.00 278.40V284.20M570.00 281.30H644.00M644.00 278.40V284.20" class="br"/>
<circle cx="605.15" cy="278.15" r="1.25" class="sd"/><path d="M603.65 278.15H606.65M604.35 276.85L605.95 279.45M605.95 276.85L604.35 279.45" class="sp"/>
<circle cx="609.25" cy="278.15" r="1.25" class="sd"/><path d="M607.75 278.15H610.75M608.45 276.85L610.05 279.45M610.05 276.85L608.45 279.45" class="sp"/>
<path d="M570.60 286.10V291.90M570.60 289.00H620.50M620.50 286.10V291.90" class="br"/>
<circle cx="593.95" cy="285.85" r="1.25" class="sd"/><path d="M592.45 285.85H595.45M593.15 284.55L594.75 287.15M594.75 284.55L593.15 287.15" class="sp"/>
<circle cx="598.05" cy="285.85" r="1.25" class="sd"/><path d="M596.55 285.85H599.55M597.25 284.55L598.85 287.15M598.85 284.55L597.25 287.15" class="sp"/>
<path d="M542.00 293.60V299.40M542.00 296.50H645.40M645.40 293.60V299.40" class="br"/>
<circle cx="587.25" cy="293.35" r="1.25" class="sd"/><path d="M585.75 293.35H588.75M586.45 292.05L588.05 294.65M588.05 292.05L586.45 294.65" class="sp"/>
<circle cx="591.35" cy="293.35" r="1.25" class="sd"/><path d="M589.85 293.35H592.85M590.55 292.05L592.15 294.65M592.15 292.05L590.55 294.65" class="sp"/>
<path d="M542.00 301.50V307.30M542.00 304.40H619.60M619.60 301.50V307.30" class="br"/>
<circle cx="575.55" cy="301.25" r="1.25" class="sd"/><path d="M574.05 301.25H577.05M574.75 299.95L576.35 302.55M576.35 299.95L574.75 302.55" class="sp"/>
<circle cx="579.65" cy="301.25" r="1.25" class="sd"/><path d="M578.15 301.25H581.15M578.85 299.95L580.45 302.55M580.45 299.95L578.85 302.55" class="sp"/>
<path d="M542.00 309.10V314.90M542.00 312.00H592.50M592.50 309.10V314.90" class="br"/>
<circle cx="564.85" cy="308.85" r="1.25" class="sd"/><path d="M563.35 308.85H566.35M564.05 307.55L565.65 310.15M565.65 307.55L564.05 310.15" class="sp"/>
<circle cx="568.95" cy="308.85" r="1.25" class="sd"/><path d="M567.45 308.85H570.45M568.15 307.55L569.75 310.15M569.75 307.55L568.15 310.15" class="sp"/>
<path d="M542.00 316.80V322.60M542.00 319.70H566.60M566.60 316.80V322.60" class="br"/>
<circle cx="552.25" cy="316.55" r="1.25" class="sd"/><path d="M550.75 316.55H553.75M551.45 315.25L553.05 317.85M553.05 315.25L551.45 317.85" class="sp"/>
<circle cx="556.35" cy="316.55" r="1.25" class="sd"/><path d="M554.85 316.55H557.85M555.55 315.25L557.15 317.85M557.15 315.25L555.55 317.85" class="sp"/>
<path d="M568.70 316.80V322.60M568.70 319.70H592.50M592.50 316.80V322.60" class="br"/>
<circle cx="577.65" cy="316.55" r="1.25" class="sd"/><path d="M576.15 316.55H579.15M576.85 315.25L578.45 317.85M578.45 315.25L576.85 317.85" class="sp"/>
<circle cx="581.75" cy="316.55" r="1.25" class="sd"/><path d="M580.25 316.55H583.25M580.95 315.25L582.55 317.85M582.55 315.25L580.95 317.85" class="sp"/>
<text transform="translate(508.60,371.60) rotate(-90)" class="yl2" style="font-size:7.0px;">AST/</text>
<text transform="translate(508.60,355.60) rotate(-90)" class="yl2" style="font-size:7.0px;letter-spacing:0.85px;">(U· L<tspan dy="-2.9" font-size="4.6">-1</tspan><tspan dy="2.9">)</tspan></text>
</svg></body></html>
